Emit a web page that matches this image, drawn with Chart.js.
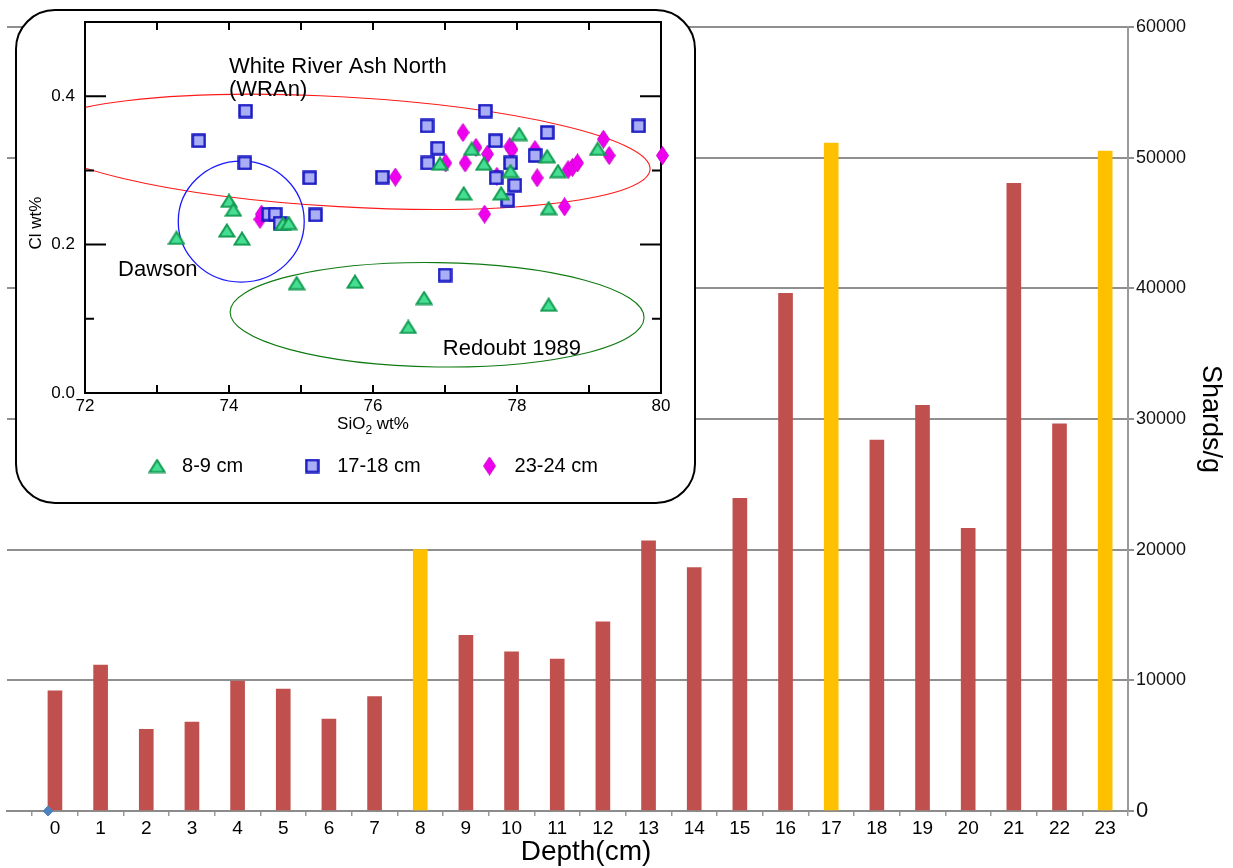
<!DOCTYPE html>
<html>
<head>
<meta charset="utf-8">
<title>Shards/g by depth</title>
<script src="https://cdn.jsdelivr.net/npm/chart.js@4.4.1/dist/chart.umd.min.js"></script>
<style>
html,body{margin:0;padding:0;background:#fff;}
#wrap{position:relative;width:1233px;height:868px;overflow:hidden;}
#main{position:absolute;left:0;top:0;}
#insetBox{position:absolute;left:15px;top:9px;width:681px;height:495px;box-sizing:border-box;border:2px solid #000;border-radius:40px;background:#fff;overflow:hidden;}
#inset{position:absolute;left:0;top:0;}
</style>
</head>
<body>
<div id="wrap">
  <canvas id="main" width="1233" height="868"></canvas>
  <div id="insetBox"><canvas id="inset" width="677" height="491"></canvas></div>
</div>
<script>
// ---------------- main chart data ----------------
const depths = [0,1,2,3,4,5,6,7,8,9,10,11,12,13,14,15,16,17,18,19,20,21,22,23];
const shardsPerGram = [9200,11170,6250,6810,9950,9330,7040,8750,20000,13440,12190,11630,14480,20680,18620,23920,39610,51110,28390,31040,21630,48030,29630,50500];
const ashLayerDepths = [8,17,23];
const shardAxisTicks = [0,10000,20000,30000,40000,50000,60000];
const baseMarkerDepth = [-0.15];
const baseMarkerValue = [0];

// ---------------- inset (SiO2 vs Cl) data ----------------
const sio2_8_9 = [73.27,74.00,74.06,73.97,74.18,74.75,74.83,74.94,75.75,76.49,76.71,76.93,77.26,77.37,77.54,77.78,77.91,78.03,78.42,78.44,78.44,78.57,79.12];
const cl_8_9   = [0.209,0.259,0.247,0.219,0.208,0.228,0.229,0.148,0.150,0.089,0.128,0.309,0.269,0.329,0.309,0.269,0.299,0.349,0.319,0.249,0.119,0.299,0.329];
const sio2_17_18 = [73.58,74.23,74.22,74.55,74.64,74.71,75.12,75.20,76.13,76.75,76.90,76.76,77.00,77.56,77.70,77.71,77.91,77.97,77.87,78.25,78.42,79.69];
const cl_17_18   = [0.340,0.380,0.310,0.241,0.241,0.229,0.290,0.240,0.291,0.360,0.330,0.310,0.159,0.380,0.340,0.290,0.310,0.280,0.260,0.320,0.351,0.360];
const sio2_23_24 = [74.43,74.45,76.31,77.01,77.25,77.28,77.43,77.59,77.55,77.90,77.93,77.72,78.25,78.28,78.66,78.71,78.77,78.84,79.20,79.28,80.02];
const cl_23_24   = [0.234,0.241,0.291,0.310,0.351,0.310,0.331,0.322,0.241,0.332,0.328,0.292,0.328,0.290,0.251,0.301,0.304,0.310,0.342,0.320,0.320];
const sio2Ticks = [72,73,74,75,76,77,78,79,80];
const sio2Labelled = [72,74,76,78,80];
const clTicks = [0,0.1,0.2,0.3,0.4,0.5];
const clLabelled = [0,0.2,0.4];

// field ellipses (data units; tilt in degrees)
const ellipseNames = ['White River Ash North','Dawson','Redoubt 1989'];
const ellipseCx = [75.57, 74.17, 76.89];
const ellipseCy = [0.325, 0.231, 0.1054];
const ellipseRx = [4.285, 0.875, 2.875];
const ellipseRy = [0.074, 0.0815, 0.0703];
const ellipseTilt = [3.25, 0, 0.8];
const ellipseColors = ['#ff1a1a', '#1a1aff', '#0f7a12'];

const annotationText = ['White River Ash North','(WRAn)','Dawson','Redoubt 1989'];
const annotationX = [74.0, 74.0, 72.46, 76.97];
const annotationY = [0.439, 0.408, 0.166, 0.060];

// ---------------- helpers ----------------
const FONT = "'Liberation Sans', Arial, Helvetica, sans-serif";
Chart.defaults.font.family = FONT;
Chart.defaults.color = '#000';

function zip(xs, ys){ return xs.map((x,i)=>({x:x, y:ys[i]})); }

function makeMarker(kind){
  const c = document.createElement('canvas');
  const g = c.getContext('2d');
  if (kind === 'triangle'){
    c.width = 18; c.height = 15;
    g.beginPath(); g.moveTo(1.5,13.5); g.lineTo(9,1.5); g.lineTo(16.5,13.5); g.closePath();
    g.fillStyle = '#45de92'; g.fill(); g.lineWidth = 2; g.strokeStyle = '#149c52'; g.stroke();
  } else if (kind === 'square'){
    c.width = 15; c.height = 15;
    g.fillStyle = '#a9aef5'; g.fillRect(1.5,1.5,12,12);
    g.lineWidth = 2.5; g.strokeStyle = '#1a1ac4'; g.strokeRect(1.5,1.5,12,12);
  } else {
    c.width = 13; c.height = 19;
    g.beginPath(); g.moveTo(6.5,0.5); g.lineTo(12.5,9.5); g.lineTo(6.5,18.5); g.lineTo(0.5,9.5); g.closePath();
    g.fillStyle = '#ee00ee'; g.fill(); g.lineWidth = 1; g.strokeStyle = '#d000d0'; g.stroke();
  }
  return c;
}
const triMarker = makeMarker('triangle');
const sqMarker = makeMarker('square');
const diaMarker = makeMarker('diamond');

// ---------------- main chart ----------------
const barColors = depths.map(d => ashLayerDepths.includes(d) ? '#FFC000' : '#C0504D');

const depthTitlePlugin = {
  id: 'depthTitle',
  afterDraw(chart){
    const ctx = chart.ctx;
    ctx.save();
    ctx.font = '28px ' + FONT;
    ctx.fillStyle = '#000';
    ctx.textAlign = 'center';
    ctx.textBaseline = 'middle';
    ctx.fillText('Depth(cm)', 586, 852);
    ctx.restore();
  }
};

new Chart(document.getElementById('main'), {
  type: 'bar',
  data: {
    datasets: [
      {
        type: 'bar',
        label: 'Shards/g',
        data: zip(depths, shardsPerGram),
        backgroundColor: barColors,
        borderWidth: 0,
        barThickness: 14,
        order: 2
      },
      {
        type: 'scatter',
        label: 'base',
        data: zip(baseMarkerDepth, baseMarkerValue),
        pointStyle: 'rectRot',
        pointRadius: 5,
        backgroundColor: '#4F81BD',
        borderColor: '#4F81BD',
        clip: false,
        order: 1
      }
    ]
  },
  options: {
    responsive: false,
    animation: false,
    devicePixelRatio: 1,
    layout: { padding: { left: 7, top: 27, right: 0, bottom: 0 } },
    plugins: { legend: { display: false }, tooltip: { enabled: false } },
    scales: {
      x: {
        type: 'linear',
        min: -1.05,
        max: 23.5,
        offset: false,
        afterBuildTicks: s => { s.ticks = depths.map(v => ({ value: v })); },
        afterFit: s => { s.height = 57; },
        grid: { drawOnChartArea: false, drawTicks: true, tickLength: 5, color: '#999', lineWidth: 1.5 },
        border: { color: '#8c8c8c', width: 2 },
        ticks: { font: { family: FONT, size: 19 }, color: '#000', padding: 1, autoSkip: false, maxRotation: 0, callback: v => String(v) }
      },
      y: {
        position: 'right',
        min: 0,
        max: 60000,
        afterBuildTicks: s => { s.ticks = shardAxisTicks.map(v => ({ value: v })); },
        afterFit: s => { s.width = 105; },
        grid: { color: '#8f8f8f', lineWidth: 2, drawTicks: true, tickLength: 6 },
        border: { color: '#9a9a9a', width: 2 },
        ticks: {
          padding: 2,
          color: '#111',
          font: c => (c.tick && c.tick.value === 0) ? { family: FONT, size: 22 } : { family: FONT, size: 18 },
          callback: v => String(v)
        },
        title: { display: true, text: 'Shards/g', font: { family: FONT, size: 27 }, color: '#000', padding: { top: 6, bottom: 0 } }
      }
    }
  },
  plugins: [depthTitlePlugin]
});

// ---------------- inset chart ----------------
const insetDecorPlugin = {
  id: 'insetDecor',
  beforeDatasetsDraw(chart){
    const ctx = chart.ctx, a = chart.chartArea;
    const xs = chart.scales.x, ys = chart.scales.y;
    const pxX = Math.abs(xs.getPixelForValue(1) - xs.getPixelForValue(0));
    const pxY = Math.abs(ys.getPixelForValue(0) - ys.getPixelForValue(1));
    // ellipses
    ctx.save();
    ctx.beginPath(); ctx.rect(a.left, a.top, a.right - a.left, a.bottom - a.top); ctx.clip();
    ellipseNames.forEach((n, i) => {
      ctx.beginPath();
      ctx.ellipse(xs.getPixelForValue(ellipseCx[i]), ys.getPixelForValue(ellipseCy[i]),
                  ellipseRx[i] * pxX, ellipseRy[i] * pxY, ellipseTilt[i] * Math.PI / 180, 0, Math.PI * 2);
      ctx.strokeStyle = ellipseColors[i];
      ctx.lineWidth = i === 1 ? 1.3 : 1.1;
      ctx.stroke();
    });
    ctx.restore();
    // annotations
    ctx.save();
    ctx.font = '22px ' + FONT;
    ctx.fillStyle = '#000';
    ctx.textAlign = 'left';
    ctx.textBaseline = 'middle';
    annotationText.forEach((t, i) => ctx.fillText(t, xs.getPixelForValue(annotationX[i]), ys.getPixelForValue(annotationY[i])));
    ctx.restore();
    // frame and inward ticks
    ctx.save();
    ctx.strokeStyle = '#000';
    ctx.lineWidth = 2;
    ctx.strokeRect(a.left, a.top, a.right - a.left, a.bottom - a.top);
    ctx.beginPath();
    sio2Ticks.forEach(v => {
      const p = xs.getPixelForValue(v);
      ctx.moveTo(p, a.bottom); ctx.lineTo(p, a.bottom - 8);
      ctx.moveTo(p, a.top); ctx.lineTo(p, a.top + 8);
    });
    clTicks.forEach(v => {
      const p = ys.getPixelForValue(v);
      const len = clLabelled.some(l => Math.abs(l - v) < 1e-6) ? 21 : 9;
      ctx.moveTo(a.left, p); ctx.lineTo(a.left + len, p);
      ctx.moveTo(a.right, p); ctx.lineTo(a.right - len, p);
    });
    ctx.stroke();
    ctx.restore();
  },
  afterDraw(chart){
    const ctx = chart.ctx, a = chart.chartArea;
    ctx.save();
    ctx.fillStyle = '#000';
    ctx.textBaseline = 'middle';
    // x title with subscript
    ctx.font = '17px ' + FONT;
    const w1 = ctx.measureText('SiO').width;
    ctx.font = '12px ' + FONT;
    const w2 = ctx.measureText('2').width;
    ctx.font = '17px ' + FONT;
    const w3 = ctx.measureText(' wt%').width;
    const cx = (a.left + a.right) / 2;
    const x0 = cx - (w1 + w2 + w3) / 2;
    const ty = a.bottom + 31;
    ctx.textAlign = 'left';
    ctx.fillText('SiO', x0, ty);
    ctx.font = '12px ' + FONT;
    ctx.fillText('2', x0 + w1, ty + 7);
    ctx.font = '17px ' + FONT;
    ctx.fillText(' wt%', x0 + w1 + w2, ty);
    // y title
    ctx.translate(19, 212);
    ctx.rotate(-Math.PI / 2);
    ctx.textAlign = 'center';
    ctx.fillText('Cl wt%', 0, 0);
    ctx.restore();
  }
};

// let tick labels of the narrow inset axes draw outside their own boxes
const noLabelClip = s => { s._computeLabelArea = () => undefined; };

new Chart(document.getElementById('inset'), {
  type: 'scatter',
  data: {
    datasets: [
      { label: '8-9 cm', data: zip(sio2_8_9, cl_8_9), pointStyle: triMarker, pointRadius: 8, clip: false },
      { label: '17-18 cm', data: zip(sio2_17_18, cl_17_18), pointStyle: sqMarker, pointRadius: 7, clip: false },
      { label: '23-24 cm', data: zip(sio2_23_24, cl_23_24), pointStyle: diaMarker, pointRadius: 8, clip: false }
    ]
  },
  options: {
    responsive: false,
    animation: false,
    devicePixelRatio: 1,
    layout: { padding: { left: 62, right: 33, top: 11, bottom: 16 } },
    plugins: {
      tooltip: { enabled: false },
      legend: {
        position: 'bottom',
        labels: { usePointStyle: true, pointStyleWidth: 30, boxHeight: 12, padding: 54, color: '#000', font: { family: FONT, size: 20 } }
      }
    },
    scales: {
      x: {
        type: 'linear', min: 72, max: 80,
        afterBuildTicks: s => { s.ticks = sio2Ticks.map(v => ({ value: v })); },
        afterFit: s => { s.height = 9; noLabelClip(s); },
        grid: { display: false, drawTicks: true, tickLength: 3 },
        border: { display: false },
        ticks: { padding: 0, font: { family: FONT, size: 17 }, color: '#000', maxRotation: 0, autoSkip: false,
                 callback: v => sio2Labelled.includes(v) ? String(v) : '' }
      },
      y: {
        type: 'linear', min: 0, max: 0.5,
        afterBuildTicks: s => { s.ticks = clTicks.map(v => ({ value: v })); },
        afterFit: s => { s.width = 6; noLabelClip(s); },
        grid: { display: false, drawTicks: true, tickLength: 10 },
        border: { display: false },
        ticks: { padding: 0, font: { family: FONT, size: 17 }, color: '#000',
                 callback: v => clLabelled.some(l => Math.abs(l - v) < 1e-6) ? v.toFixed(1) : '' }
      }
    }
  },
  plugins: [insetDecorPlugin]
});
</script>
</body>
</html>
